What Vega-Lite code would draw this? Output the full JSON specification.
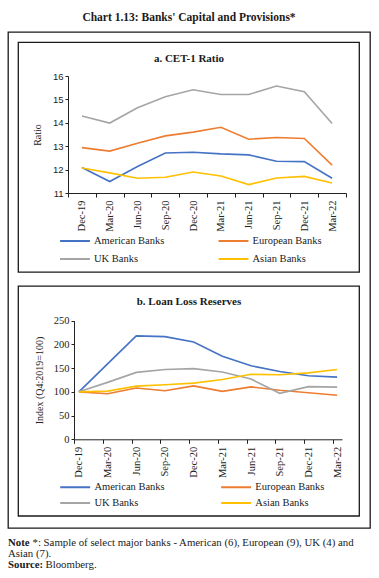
{
  "$schema": "https://vega.github.io/schema/vega-lite/v6.json",
  "autosize": {"type": "none"},
  "width": 362,
  "height": 496,
  "padding": {"left": 8, "top": 32, "right": 9, "bottom": 50},
  "background": "white",
  "title": {"text": "Chart 1.13: Banks' Capital and Provisions*", "font": "Liberation Serif", "fontSize": 11.5, "fontWeight": "bold", "anchor": "middle", "offset": 9, "color": "#1a1a1a"},
  "config": {
    "view": {"stroke": "#1a1a1a", "strokeWidth": 1.3},
    "axis": {"grid": false, "domainColor": "#222", "tickColor": "#222", "labelColor": "#222", "titleColor": "#222"}
  },
  "datasets": {
    "cet1": [
      {"q": "Dec-19", "bank": "American Banks", "v": 12.09}, {"q": "Mar-20", "bank": "American Banks", "v": 11.49}, {"q": "Jun-20", "bank": "American Banks", "v": 12.13}, {"q": "Sep-20", "bank": "American Banks", "v": 12.71}, {"q": "Dec-20", "bank": "American Banks", "v": 12.74}, {"q": "Mar-21", "bank": "American Banks", "v": 12.67}, {"q": "Jun-21", "bank": "American Banks", "v": 12.63}, {"q": "Sep-21", "bank": "American Banks", "v": 12.36}, {"q": "Dec-21", "bank": "American Banks", "v": 12.34}, {"q": "Mar-22", "bank": "American Banks", "v": 11.63},
      {"q": "Dec-19", "bank": "European Banks", "v": 12.94}, {"q": "Mar-20", "bank": "European Banks", "v": 12.79}, {"q": "Jun-20", "bank": "European Banks", "v": 13.13}, {"q": "Sep-20", "bank": "European Banks", "v": 13.44}, {"q": "Dec-20", "bank": "European Banks", "v": 13.60}, {"q": "Mar-21", "bank": "European Banks", "v": 13.81}, {"q": "Jun-21", "bank": "European Banks", "v": 13.30}, {"q": "Sep-21", "bank": "European Banks", "v": 13.37}, {"q": "Dec-21", "bank": "European Banks", "v": 13.33}, {"q": "Mar-22", "bank": "European Banks", "v": 12.19},
      {"q": "Dec-19", "bank": "UK Banks", "v": 14.29}, {"q": "Mar-20", "bank": "UK Banks", "v": 13.99}, {"q": "Jun-20", "bank": "UK Banks", "v": 14.64}, {"q": "Sep-20", "bank": "UK Banks", "v": 15.11}, {"q": "Dec-20", "bank": "UK Banks", "v": 15.41}, {"q": "Mar-21", "bank": "UK Banks", "v": 15.21}, {"q": "Jun-21", "bank": "UK Banks", "v": 15.21}, {"q": "Sep-21", "bank": "UK Banks", "v": 15.57}, {"q": "Dec-21", "bank": "UK Banks", "v": 15.33}, {"q": "Mar-22", "bank": "UK Banks", "v": 13.97},
      {"q": "Dec-19", "bank": "Asian Banks", "v": 12.07}, {"q": "Mar-20", "bank": "Asian Banks", "v": 11.86}, {"q": "Jun-20", "bank": "Asian Banks", "v": 11.63}, {"q": "Sep-20", "bank": "Asian Banks", "v": 11.67}, {"q": "Dec-20", "bank": "Asian Banks", "v": 11.90}, {"q": "Mar-21", "bank": "Asian Banks", "v": 11.73}, {"q": "Jun-21", "bank": "Asian Banks", "v": 11.36}, {"q": "Sep-21", "bank": "Asian Banks", "v": 11.64}, {"q": "Dec-21", "bank": "Asian Banks", "v": 11.71}, {"q": "Mar-22", "bank": "Asian Banks", "v": 11.43}
    ],
    "llr": [
      {"q": "Dec-19", "bank": "American Banks", "v": 100}, {"q": "Mar-20", "bank": "American Banks", "v": 159}, {"q": "Jun-20", "bank": "American Banks", "v": 218}, {"q": "Sep-20", "bank": "American Banks", "v": 216.5}, {"q": "Dec-20", "bank": "American Banks", "v": 205}, {"q": "Mar-21", "bank": "American Banks", "v": 175}, {"q": "Jun-21", "bank": "American Banks", "v": 155}, {"q": "Sep-21", "bank": "American Banks", "v": 143}, {"q": "Dec-21", "bank": "American Banks", "v": 134}, {"q": "Mar-22", "bank": "American Banks", "v": 131},
      {"q": "Dec-19", "bank": "European Banks", "v": 100}, {"q": "Mar-20", "bank": "European Banks", "v": 96}, {"q": "Jun-20", "bank": "European Banks", "v": 108}, {"q": "Sep-20", "bank": "European Banks", "v": 102.5}, {"q": "Dec-20", "bank": "European Banks", "v": 112.5}, {"q": "Mar-21", "bank": "European Banks", "v": 101}, {"q": "Jun-21", "bank": "European Banks", "v": 110.5}, {"q": "Sep-21", "bank": "European Banks", "v": 103.5}, {"q": "Dec-21", "bank": "European Banks", "v": 98}, {"q": "Mar-22", "bank": "European Banks", "v": 93},
      {"q": "Dec-19", "bank": "UK Banks", "v": 100}, {"q": "Mar-20", "bank": "UK Banks", "v": 120}, {"q": "Jun-20", "bank": "UK Banks", "v": 141}, {"q": "Sep-20", "bank": "UK Banks", "v": 147}, {"q": "Dec-20", "bank": "UK Banks", "v": 149}, {"q": "Mar-21", "bank": "UK Banks", "v": 142}, {"q": "Jun-21", "bank": "UK Banks", "v": 127}, {"q": "Sep-21", "bank": "UK Banks", "v": 97}, {"q": "Dec-21", "bank": "UK Banks", "v": 111}, {"q": "Mar-22", "bank": "UK Banks", "v": 110},
      {"q": "Dec-19", "bank": "Asian Banks", "v": 100}, {"q": "Mar-20", "bank": "Asian Banks", "v": 101.5}, {"q": "Jun-20", "bank": "Asian Banks", "v": 112}, {"q": "Sep-20", "bank": "Asian Banks", "v": 115}, {"q": "Dec-20", "bank": "Asian Banks", "v": 118.5}, {"q": "Mar-21", "bank": "Asian Banks", "v": 126}, {"q": "Jun-21", "bank": "Asian Banks", "v": 137}, {"q": "Sep-21", "bank": "Asian Banks", "v": 136}, {"q": "Dec-21", "bank": "Asian Banks", "v": 140}, {"q": "Mar-22", "bank": "Asian Banks", "v": 147}
    ]
  },
  "resolve": {
    "scale": {"x": "independent", "y": "independent", "color": "independent"},
    "axis": {"x": "independent", "y": "independent"},
    "legend": {"color": "independent"}
  },
  "layer": [
    {
      "data": {"values": [{"panel": "a"}, {"panel": "b"}]},
      "mark": {"type": "rect", "fillOpacity": 0, "stroke": "#1a1a1a", "strokeWidth": 1.3},
      "encoding": {
        "y": {"field": "panel", "type": "nominal", "scale": {"type": "band", "domain": ["a", "b"], "range": [10.3, 484], "paddingInner": 0.0574, "paddingOuter": 0}, "axis": null},
        "x": {"datum": "frame", "type": "nominal", "scale": {"type": "band", "domain": ["frame"], "range": [10.3, 351.3], "paddingInner": 0, "paddingOuter": 0}, "axis": null}
      }
    },
    {
      "data": {"values": [{"panel": "a", "title": "a. CET-1 Ratio"}, {"panel": "b", "title": "b. Loan Loss Reserves"}]},
      "mark": {"type": "text", "font": "Liberation Serif", "fontSize": 11, "fontWeight": "bold", "baseline": "middle", "align": "center", "color": "#1a1a1a"},
      "encoding": {
        "text": {"field": "title"},
        "y": {"field": "panel", "type": "nominal", "scale": {"type": "point", "domain": ["a", "b"], "range": [27.3, 269.7], "padding": 0}, "axis": null}
      }
    },
    {
      "data": {"name": "cet1"},
      "mark": {"type": "line", "strokeWidth": 1.6},
      "encoding": {
        "x": {"field": "q", "type": "ordinal", "sort": null,
          "scale": {"type": "band", "domain": ["Dec-19", "Mar-20", "Jun-20", "Sep-20", "Dec-20", "Mar-21", "Jun-21", "Sep-21", "Dec-21", "Mar-22"], "range": [60, 338], "paddingInner": 0, "paddingOuter": 0},
          "axis": {"orient": "bottom", "offset": -335, "labelAngle": -90, "labelFont": "Liberation Serif", "labelFontSize": 10.5, "tickBand": "extent", "tickSize": 4, "labelPadding": 3, "title": null}},
        "y": {"field": "v", "type": "quantitative",
          "scale": {"domain": [11, 16], "range": [161, 44], "nice": false, "zero": false},
          "axis": {"orient": "left", "offset": -60, "values": [11, 12, 13, 14, 15, 16], "tickSize": 3, "labelFont": "Liberation Sans", "labelFontSize": 9.5, "title": "Ratio", "titleFont": "Liberation Serif", "titleFontSize": 10, "titleFontWeight": "normal", "titlePadding": 10}},
        "color": {"field": "bank", "type": "nominal",
          "scale": {"domain": ["American Banks", "UK Banks", "European Banks", "Asian Banks"], "range": ["#4472C4", "#A5A5A5", "#ED7D31", "#FFC000"]},
          "legend": {"orient": "none", "legendX": 54.5, "legendY": 196.5, "columns": 2, "title": null, "symbolType": "M-1.3,0H1.3", "symbolSize": 529, "symbolStrokeWidth": 2, "symbolFillColor": "transparent", "labelFont": "Liberation Serif", "labelFontSize": 10.5, "labelColor": "#222", "labelOffset": 6.5, "columnPadding": 49.5, "rowPadding": 0}}
      }
    },
    {
      "data": {"name": "llr"},
      "mark": {"type": "line", "strokeWidth": 1.6},
      "encoding": {
        "x": {"field": "q", "type": "ordinal", "sort": null,
          "scale": {"type": "point", "domain": ["Dec-19", "Mar-20", "Jun-20", "Sep-20", "Dec-20", "Mar-21", "Jun-21", "Sep-21", "Dec-21", "Mar-22"], "range": [66, 334], "padding": 0.17},
          "axis": {"orient": "bottom", "offset": -88.7, "labelAngle": -90, "labelFont": "Liberation Serif", "labelFontSize": 10.5, "tickSize": 4, "tickOffset": -4.5, "labelOffset": 4.5, "labelPadding": 3, "title": null}},
        "y": {"field": "v", "type": "quantitative",
          "scale": {"domain": [0, 250], "range": [407.3, 288.7], "nice": false},
          "axis": {"orient": "left", "offset": -66, "values": [0, 50, 100, 150, 200, 250], "tickSize": 3, "labelFont": "Liberation Serif", "labelFontSize": 10.5, "title": "Index (Q4:2019=100)", "titleFont": "Liberation Serif", "titleFontSize": 10, "titleFontWeight": "normal", "titlePadding": 9}},
        "color": {"field": "bank", "type": "nominal",
          "scale": {"domain": ["American Banks", "UK Banks", "European Banks", "Asian Banks"], "range": ["#4472C4", "#A5A5A5", "#ED7D31", "#FFC000"]},
          "legend": {"orient": "none", "legendX": 57.2, "legendY": 445, "columns": 2, "title": null, "symbolType": "M-1.7,0H1.7", "symbolSize": 310, "symbolStrokeWidth": 2, "symbolFillColor": "transparent", "labelFont": "Liberation Serif", "labelFontSize": 10.5, "labelColor": "#222", "labelOffset": 9.2, "columnPadding": 51.9, "rowPadding": 0}}
      }
    },
    {
      "data": {"values": [{"line": 1, "t": "Note"}, {"line": 3, "t": "Source:"}]},
      "mark": {"type": "text", "font": "Liberation Serif", "fontSize": 10.8, "fontWeight": "bold", "align": "left", "baseline": "middle", "color": "#1a1a1a"},
      "encoding": {
        "text": {"field": "t"},
        "x": {"datum": 0, "type": "quantitative", "scale": {"domain": [0, 1], "range": [0, 362]}, "axis": null},
        "y": {"field": "line", "type": "ordinal", "scale": {"type": "point", "domain": [1, 2, 3], "range": [511.3, 532.8], "padding": 0}, "axis": null}
      }
    },
    {
      "data": {"values": [{"line": 1, "t": "*: Sample of select major banks - American (6), European (9), UK (4) and"}]},
      "mark": {"type": "text", "font": "Liberation Serif", "fontSize": 10.8, "align": "left", "baseline": "middle", "dx": 24.5, "color": "#1a1a1a"},
      "encoding": {
        "text": {"field": "t"},
        "x": {"datum": 0, "type": "quantitative", "scale": {"domain": [0, 1], "range": [0, 362]}, "axis": null},
        "y": {"field": "line", "type": "ordinal", "scale": {"type": "point", "domain": [1, 2, 3], "range": [511.3, 532.8], "padding": 0}, "axis": null}
      }
    },
    {
      "data": {"values": [{"line": 2, "t": "Asian (7)."}]},
      "mark": {"type": "text", "font": "Liberation Serif", "fontSize": 10.8, "align": "left", "baseline": "middle", "color": "#1a1a1a"},
      "encoding": {
        "text": {"field": "t"},
        "x": {"datum": 0, "type": "quantitative", "scale": {"domain": [0, 1], "range": [0, 362]}, "axis": null},
        "y": {"field": "line", "type": "ordinal", "scale": {"type": "point", "domain": [1, 2, 3], "range": [511.3, 532.8], "padding": 0}, "axis": null}
      }
    },
    {
      "data": {"values": [{"line": 3, "t": "Bloomberg."}]},
      "mark": {"type": "text", "font": "Liberation Serif", "fontSize": 10.8, "align": "left", "baseline": "middle", "dx": 37.5, "color": "#1a1a1a"},
      "encoding": {
        "text": {"field": "t"},
        "x": {"datum": 0, "type": "quantitative", "scale": {"domain": [0, 1], "range": [0, 362]}, "axis": null},
        "y": {"field": "line", "type": "ordinal", "scale": {"type": "point", "domain": [1, 2, 3], "range": [511.3, 532.8], "padding": 0}, "axis": null}
      }
    }
  ]
}
